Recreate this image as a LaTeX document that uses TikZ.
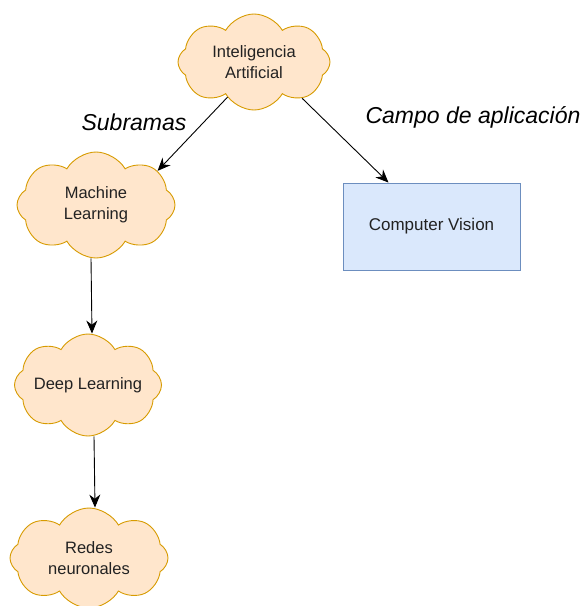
\documentclass[tikz,border=0pt]{standalone}
\usepackage{fontspec}
\setmainfont{Liberation Sans}
\usetikzlibrary{shapes.symbols, arrows.meta, positioning}
\definecolor{cloudfill}{HTML}{FFE6CC}
\definecolor{cloudline}{HTML}{D79B00}
\definecolor{boxfill}{HTML}{DAE8FC}
\definecolor{boxline}{HTML}{6C8EBF}
\definecolor{inktext}{HTML}{222222}

\begin{document}
\begin{tikzpicture}[
    x=1pt, y=-1pt,
    topic/.style={cloud, cloud puffs=8, cloud puff arc=120, cloud ignores aspect, draw=cloudline, fill=cloudfill, line width=0.9pt, align=center, text=inktext, font=\fontsize{16.5}{21}\selectfont, inner sep=0pt},
    field/.style={rectangle, draw=boxline, fill=boxfill, line width=0.9pt, minimum width=177pt, minimum height=87pt, text=inktext, font=\fontsize{17}{21}\selectfont},
    arrow/.style={-{Stealth[length=13pt, width=11pt]}, line width=0.9pt},
    tag/.style={font=\fontsize{23}{26}\selectfont\itshape}
]
\useasboundingbox (0,0) rectangle (585,606);

% Root topic
\node[topic, minimum width=152pt, minimum height=96pt] (ia) at (254,62) {Inteligencia\\Artificial};

% Subfields
\node[topic, minimum width=158pt, minimum height=106pt] (ml) at (96,205) {Machine\\Learning};
\node[topic, minimum width=147pt, minimum height=102pt] (dl) at (88,385) {Deep Learning};
\node[topic, minimum width=158pt, minimum height=100pt] (redes) at (89,558) {Redes\\neuronales};

% Application field
\node[field] (cv) at (431.5,226.5) {Computer Vision};

\draw[arrow] (ia.233) -- (ml.29);
\draw[arrow] (ia.-37) -- ([xshift=-43pt]cv.north);
\draw[arrow] ([xshift=-5pt]ml.south) -- ([xshift=4pt]dl.north);
\draw[arrow] ([xshift=6pt]dl.south) -- ([xshift=6pt]redes.north);

% Labels for branches
\node[tag] (sub) at (134,122) {Subramas};
\node[tag] (campo) at (473,117) {Campo de aplicación};

\end{tikzpicture}
\end{document}
